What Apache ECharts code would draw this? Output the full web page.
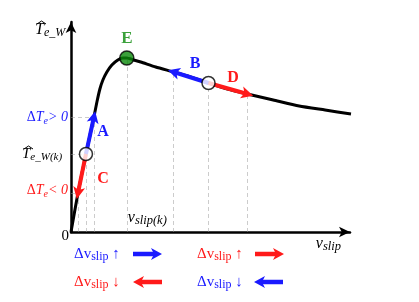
<!DOCTYPE html>
<html><head><meta charset="utf-8">
<script src="https://cdn.jsdelivr.net/npm/echarts@6/dist/echarts.min.js"></script>
<style>html,body{margin:0;padding:0;background:#fff}#c{width:419px;height:302px}</style>
</head><body><div id="c"></div>
<script>
// slip–torque curve (data units: slip, torque)
const curveSlip   = [0, 7, 15, 23, 26, 29, 32, 36, 41, 47, 52, 56, 63, 70, 85, 103, 120, 138, 157, 177, 203, 229, 255, 281];
const curveTorque = [0, 39, 78, 115, 130, 143, 152, 160, 167, 172, 174, 174, 172, 170, 165, 160, 155, 149, 143, 138, 132, 126, 122, 118];
// operating points
const pointK  = [15, 78];
const pointE  = [56, 174];
const pointBD = [138, 149];
// arrows A, C, B, D
const arrowNames  = ['A', 'C', 'B', 'D'];
const arrowFrom   = [[15, 78], [15, 78], [138, 149], [138, 149]];
const arrowTo     = [[23, 115], [7, 39], [103, 160], [177, 138]];
const arrowColors = ['#1a1aff', '#ff1a1a', '#1a1aff', '#ff1a1a'];
// dashed guides
const vGuideSlip   = [7, 15, 23, 56, 103, 138, 177];
const hGuideTorque = [39, 78, 115];
// y tick labels
const yTickValues = [115, 78, 39];
const yTickKinds  = ['pos', 'k', 'neg'];

const BLUE = '#1a1aff', RED = '#ff1a1a', GREEN = '#0a8a0a';
const SERIF = '"Liberation Serif","DejaVu Serif",serif';

const torqueAt = s => curveTorque[curveSlip.indexOf(s)];
const slipAt = t => curveSlip[curveTorque.indexOf(t)];

const curveData = curveSlip.map((s, i) => [s, curveTorque[i]]);
const guideData = vGuideSlip.map(s => ({coords: [[s, 0], [s, torqueAt(s)]]}))
  .concat(hGuideTorque.map(t => ({coords: [[0, t], [slipAt(t), t]]})));
const arrowData = arrowNames.map((n, i) => ({
  name: n, coords: [arrowFrom[i], arrowTo[i]],
  lineStyle: {color: arrowColors[i]}
}));
const HEAD = 'path://M0,0 L7,14 L0,10.5 L-7,14 Z';

const chart = echarts.init(document.getElementById('c'), null, {renderer: 'canvas'});
chart.setOption({
  animation: false,
  grid: {left: 71, top: 22, width: 279, height: 210, containLabel: false},
  xAxis: {type: 'value', min: 0, max: 280, splitLine: {show: false},
    axisTick: {show: false}, axisLabel: {show: false},
    axisLine: {onZero: false, symbol: ['none', 'arrow'], symbolSize: [8, 11],
      lineStyle: {color: '#000', width: 2.5}}},
  yAxis: {type: 'value', min: 0, max: 210, splitLine: {show: false},
    axisTick: {show: false}, axisLabel: {show: false},
    axisLine: {onZero: false, symbol: ['none', 'arrow'], symbolSize: [8, 11],
      lineStyle: {color: '#000', width: 2.5}}},
  series: [
    {type: 'lines', coordinateSystem: 'cartesian2d', z: 1, silent: true,
      lineStyle: {color: '#9a9a9a', width: 1, type: [4, 3]}, data: guideData},
    {type: 'line', data: curveData, smooth: 0.2, showSymbol: false, z: 2,
      lineStyle: {color: '#000', width: 3}},
    {type: 'lines', coordinateSystem: 'cartesian2d', z: 3,
      symbol: ['none', HEAD], symbolSize: [11, 12],
      lineStyle: {width: 4, opacity: 1}, data: arrowData},
    {type: 'scatter', z: 4, symbolSize: 13,
      data: [
        {value: pointK, itemStyle: {color: '#fff', borderColor: '#000', borderWidth: 1.5}},
        {value: pointBD, itemStyle: {color: '#fff', borderColor: '#000', borderWidth: 1.5}},
        {value: pointE, symbolSize: 14, itemStyle: {color: GREEN, borderColor: '#000', borderWidth: 1.5},
          label: {show: true, formatter: 'E', position: 'top', distance: 3,
            color: GREEN, fontFamily: SERIF, fontWeight: 'bold', fontSize: 17}}
      ]}
  ]
});

const px = v => chart.convertToPixel({gridIndex: 0}, v);
const mathRich = (color, size, subSize) => ({
  m: {fill: color, fontFamily: SERIF, fontStyle: 'italic', fontSize: size, lineHeight: 18},
  s: {fill: color, fontFamily: SERIF, fontStyle: 'italic', fontSize: subSize || size - 4, lineHeight: 10, verticalAlign: 'bottom'},
  u: {fill: color, fontFamily: SERIF, fontSize: size, lineHeight: 18},
  us: {fill: color, fontFamily: SERIF, fontSize: subSize || size - 3, lineHeight: 10, verticalAlign: 'bottom'}
});
const txt = (x, y, text, rich, align) => ({
  type: 'text', x: x, y: y, z: 10,
  style: {text: text, rich: rich, align: align || 'left', verticalAlign: 'middle'}
});
const hat = (x, y) => ({type: 'polyline', z: 10,
  shape: {points: [[x, y + 3], [x + 4.5, y], [x + 9, y + 3]]},
  style: {stroke: '#000', lineWidth: 1, fill: null}});

const g = [];
const origin = px([0, 0]);
const yTop = px([0, 210]);
// y-axis name (T-hat e_W)
const yn = [yTop[0] - 36, yTop[1] + 8];
g.push(txt(yn[0], yn[1], '{m|T}{s|e_W}', mathRich('#000', 16), 'left'));
g.push(hat(yn[0] + 2, yn[1] - 9));
// y tick labels
yTickValues.forEach((v, i) => {
  const p = px([0, v]);
  if (yTickKinds[i] === 'pos') {
    g.push(txt(p[0] - 3, p[1], '{u|Δ}{m|T}{s|e}{m|> 0}', mathRich(BLUE, 14), 'right'));
  } else if (yTickKinds[i] === 'neg') {
    g.push(txt(p[0] - 3, p[1] - 3, '{u|Δ}{m|T}{s|e}{m|< 0}', mathRich(RED, 14), 'right'));
  } else {
    const q = [p[0] - 49, p[1]];
    g.push(txt(q[0], q[1], '{m|T}{s|e_W(k)}', mathRich('#000', 15), 'left'));
    g.push(hat(q[0] + 2, q[1] - 8));
  }
});
g.push(txt(origin[0] - 2, origin[1] + 4, '{u|0}', mathRich('#000', 15), 'right'));
// x labels
const pE0 = px([pointE[0], 0]);
g.push(txt(pE0[0] + 1, pE0[1] - 14, '{m|v}{s|slip(k)}', mathRich('#000', 16, 12.5), 'left'));
const xEnd = px([280, 0]);
g.push(txt(xEnd[0] - 9, xEnd[1] + 12, '{m|v}{s|slip}', mathRich('#000', 16, 12.5), 'right'));
// arrow letters
const letterOff = {A: [13, -4], C: [21, 5], B: [4, -14], D: [5, -11]};
arrowNames.forEach((n, i) => {
  const a = px(arrowFrom[i]), b = px(arrowTo[i]);
  const m = [(a[0] + b[0]) / 2 + letterOff[n][0], (a[1] + b[1]) / 2 + letterOff[n][1]];
  g.push({type: 'text', x: m[0], y: m[1], z: 10,
    style: {text: n, fill: arrowColors[i], font: 'bold 16px ' + SERIF, align: 'center', verticalAlign: 'middle'}});
});
// legend
const legendRows = [
  {x: 74, y: 254, color: BLUE, dir: '↑', ax: 133, right: true},
  {x: 197, y: 254, color: RED, dir: '↑', ax: 255, right: true},
  {x: 74, y: 282, color: RED, dir: '↓', ax: 133, right: false},
  {x: 197, y: 282, color: BLUE, dir: '↓', ax: 254, right: false}
];
legendRows.forEach(r => {
  g.push(txt(r.x, r.y, '{u|Δv}{us|slip}{u| ' + r.dir + '}', mathRich(r.color, 15), 'left'));
  const x1 = r.ax, x2 = r.ax + 29, y = r.y;
  if (r.right) {
    g.push({type: 'line', z: 10, shape: {x1: x1, y1: y, x2: x2 - 8, y2: y}, style: {stroke: r.color, lineWidth: 4.5}});
    g.push({type: 'polygon', z: 10, shape: {points: [[x2 - 11, y - 6], [x2, y], [x2 - 11, y + 6], [x2 - 8, y]]}, style: {fill: r.color}});
  } else {
    g.push({type: 'line', z: 10, shape: {x1: x1 + 8, y1: y, x2: x2, y2: y}, style: {stroke: r.color, lineWidth: 4.5}});
    g.push({type: 'polygon', z: 10, shape: {points: [[x1 + 11, y - 6], [x1, y], [x1 + 11, y + 6], [x1 + 8, y]]}, style: {fill: r.color}});
  }
});
chart.setOption({graphic: g});
</script></body></html>
